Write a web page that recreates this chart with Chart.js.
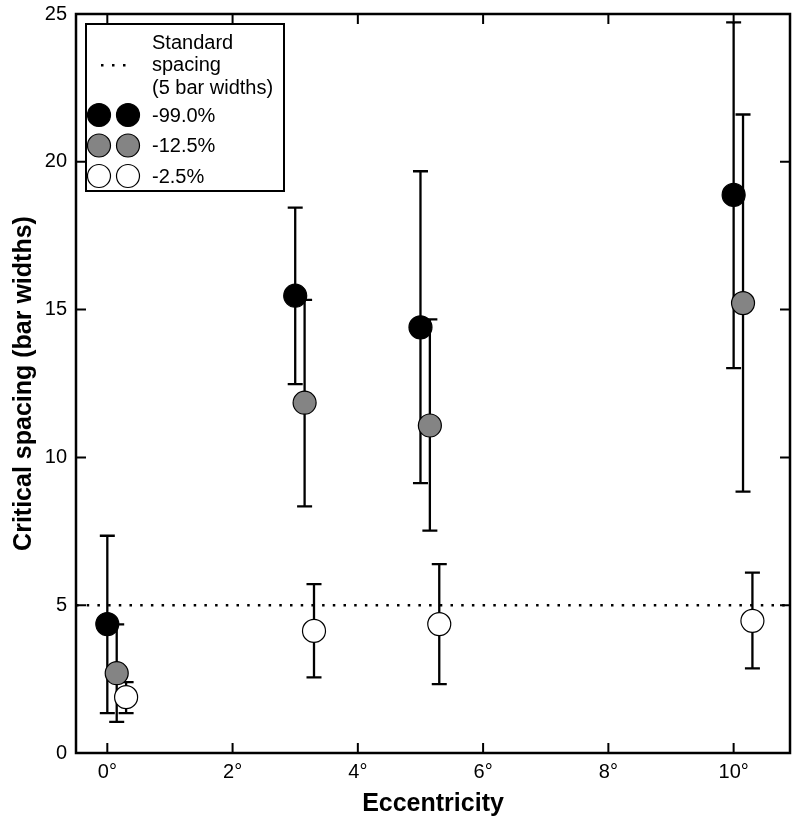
<!DOCTYPE html>
<html>
<head>
<meta charset="utf-8">
<title>Critical spacing vs eccentricity</title>
<script src="https://cdn.jsdelivr.net/npm/chart.js@4.4.0/dist/chart.umd.min.js"></script>
<style>
  html, body { margin: 0; padding: 0; background: #fff; }
  canvas { display: block; }
</style>
</head>
<body>
<canvas id="chart" width="800" height="826"></canvas>
<script>
// --- DATA ---
const eccentricity = [0, 3, 5, 10];
const dodge = [0, 0.15, 0.3]; // small horizontal shift per series so bars don't overlap
const seriesLabels = ['-99.0%', '-12.5%', '-2.5%'];

const meanBlack = [4.36, 15.47, 14.40, 18.88];
const lowBlack  = [1.35, 12.48, 9.13, 13.02];
const highBlack = [7.35, 18.45, 19.68, 24.72];

const meanGrey = [2.70, 11.85, 11.08, 15.22];
const lowGrey  = [1.05, 8.34, 7.52, 8.84];
const highGrey = [4.35, 15.33, 14.67, 21.60];

const meanWhite = [1.89, 4.13, 4.36, 4.47];
const lowWhite  = [1.35, 2.56, 2.33, 2.86];
const highWhite = [2.40, 5.71, 6.39, 6.10];

const standardSpacing = 5;
const standardLabel = ['Standard', 'spacing', '(5 bar widths)'];
const xTicks = [0, 2, 4, 6, 8, 10];
const yTicks = [0, 5, 10, 15, 20, 25];

// --- STYLE ---
const FONT = '"Liberation Sans", Arial, Helvetica, sans-serif';
const fills = ['#000000', '#848484', '#ffffff'];
const POINT_R = 11.5;

Chart.defaults.font.family = FONT;
Chart.defaults.color = '#000';

function makeSeries(idx, mean, low, high) {
    return {
        label: seriesLabels[idx],
        data: eccentricity.map((e, i) => ({ x: e + dodge[idx], y: mean[i] })),
        errLow: low,
        errHigh: high,
        pointRadius: POINT_R,
        pointHoverRadius: POINT_R,
        pointBackgroundColor: fills[idx],
        pointBorderColor: '#000',
        pointBorderWidth: 1.2,
        showLine: false
    };
}

const datasets = [
    makeSeries(0, meanBlack, lowBlack, highBlack),
    makeSeries(1, meanGrey, lowGrey, highGrey),
    makeSeries(2, meanWhite, lowWhite, highWhite)
];

// dotted reference line + error bars (under the points)
const underlayPlugin = {
    id: 'underlay',
    beforeDatasetsDraw(chart) {
        const { ctx, chartArea: ca, scales: { x, y } } = chart;
        ctx.save();
        // standard spacing line
        const yy = y.getPixelForValue(standardSpacing);
        ctx.strokeStyle = '#000';
        ctx.lineWidth = 2.5;
        ctx.setLineDash([2.5, 8.2]);
        ctx.beginPath();
        ctx.moveTo(ca.left, yy);
        ctx.lineTo(ca.right, yy);
        ctx.stroke();
        ctx.setLineDash([]);

        // error bars
        ctx.lineWidth = 2.3;
        const cap = 7.5;
        chart.data.datasets.forEach(ds => {
            ds.data.forEach((p, i) => {
                const px = x.getPixelForValue(p.x);
                const y1 = y.getPixelForValue(ds.errLow[i]);
                const y2 = y.getPixelForValue(ds.errHigh[i]);
                ctx.beginPath();
                ctx.moveTo(px, y1); ctx.lineTo(px, y2);
                ctx.moveTo(px - cap, y1); ctx.lineTo(px + cap, y1);
                ctx.moveTo(px - cap, y2); ctx.lineTo(px + cap, y2);
                ctx.stroke();
            });
        });
        ctx.restore();
    }
};

// frame, inward ticks and the legend box
const overlayPlugin = {
    id: 'overlay',
    afterDraw(chart) {
        const { ctx, chartArea: ca, scales: { x, y } } = chart;
        ctx.save();
        ctx.strokeStyle = '#000';
        ctx.lineWidth = 2;
        const tl = 10;
        ctx.beginPath();
        xTicks.forEach(v => {
            const px = x.getPixelForValue(v);
            ctx.moveTo(px, ca.bottom); ctx.lineTo(px, ca.bottom - tl);
            ctx.moveTo(px, ca.top); ctx.lineTo(px, ca.top + tl);
        });
        yTicks.forEach(v => {
            const py = y.getPixelForValue(v);
            ctx.moveTo(ca.left, py); ctx.lineTo(ca.left + tl, py);
            ctx.moveTo(ca.right, py); ctx.lineTo(ca.right - tl, py);
        });
        ctx.stroke();
        ctx.lineWidth = 2.5;
        ctx.strokeRect(ca.left, ca.top, ca.right - ca.left, ca.bottom - ca.top);

        // legend
        const lx = ca.left + 10, ly = ca.top + 10;
        const lw = 198, lh = 167;
        ctx.fillStyle = '#fff';
        ctx.fillRect(lx, ly, lw, lh);
        ctx.lineWidth = 2;
        ctx.strokeRect(lx, ly, lw, lh);

        ctx.fillStyle = '#000';
        for (let k = 0; k < 3; k++) {
            ctx.fillRect(lx + 15 + k * 11, ly + 40, 2.5, 2.5);
        }
        ctx.font = '20px ' + FONT;
        ctx.textBaseline = 'middle';
        ctx.textAlign = 'left';
        const tx = lx + 66;
        standardLabel.forEach((t, i) => ctx.fillText(t, tx, ly + 19 + i * 22.5));

        chart.data.datasets.forEach((ds, i) => {
            const cy = ly + 91 + i * 30.5;
            [lx + 13, lx + 42].forEach(cx => {
                ctx.beginPath();
                ctx.arc(cx, cy, POINT_R, 0, Math.PI * 2);
                ctx.fillStyle = ds.pointBackgroundColor;
                ctx.fill();
                ctx.lineWidth = 1.2;
                ctx.strokeStyle = '#000';
                ctx.stroke();
            });
            ctx.fillStyle = '#000';
            ctx.fillText(ds.label, lx + 66, cy + 1);
        });
        ctx.restore();
    }
};

new Chart(document.getElementById('chart'), {
    type: 'scatter',
    data: { datasets: datasets },
    options: {
        responsive: false,
        animation: false,
        events: [],
        layout: { autoPadding: false, padding: { left: 0, right: 10, top: 14, bottom: 0 } },
        plugins: {
            legend: { display: false },
            tooltip: { enabled: false }
        },
        scales: {
            x: {
                type: 'linear',
                min: -0.5,
                max: 10.9,
                grid: { display: false, drawTicks: false },
                border: { display: false },
                afterBuildTicks: s => { s.ticks = xTicks.map(v => ({ value: v })); },
                afterFit: s => { s.height = 73; s.paddingLeft = 0; s.paddingRight = 0; },
                ticks: {
                    padding: 7,
                    font: { size: 20 },
                    maxRotation: 0,
                    callback: v => v + '°'
                },
                title: {
                    display: true,
                    text: 'Eccentricity',
                    font: { size: 25, weight: 'bold' },
                    padding: { top: 0, bottom: 7 }
                }
            },
            y: {
                min: 0,
                max: 25,
                grid: { display: false, drawTicks: false },
                border: { display: false },
                afterBuildTicks: s => { s.ticks = yTicks.map(v => ({ value: v })); },
                afterFit: s => { s.width = 76; s.paddingTop = 0; s.paddingBottom = 0; },
                ticks: {
                    padding: 9,
                    font: { size: 20 }
                },
                title: {
                    display: true,
                    text: 'Critical spacing (bar widths)',
                    font: { size: 25, weight: 'bold' },
                    padding: { top: 9, bottom: 0 }
                }
            }
        }
    },
    plugins: [underlayPlugin, overlayPlugin]
});
</script>
</body>
</html>
